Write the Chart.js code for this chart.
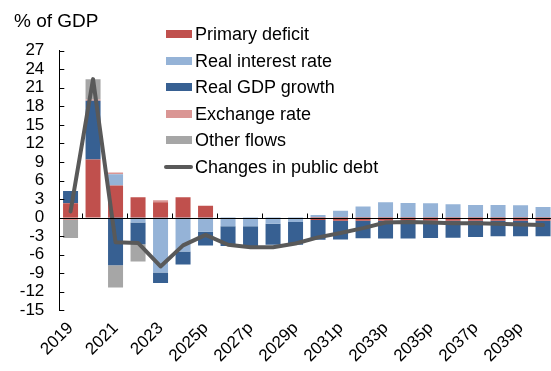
<!DOCTYPE html>
<html>
<head>
<meta charset="utf-8">
<script src="https://cdn.jsdelivr.net/npm/chart.js@4"></script>
<style>
  html, body { margin: 0; padding: 0; background: #fff; overflow: hidden; }
  body { width: 551px; height: 371px; position: relative; font-family: 'Liberation Sans', Arial, sans-serif; }
  #wrap { position: absolute; left: 0; top: 0; width: 560px; height: 371px; }
  #unit { position: absolute; left: 14px; top: 11px; font-size: 19px; line-height: 19px; color: #000; white-space: nowrap; }
  #legend { position: absolute; left: 0; top: 0; }
  .item { position: absolute; height: 18px; line-height: 18px; font-size: 18px; color: #000; white-space: nowrap; }
  .swatch { position: absolute; left: 0; top: 5px; width: 26px; height: 8px; }
  .dash { position: absolute; left: -2px; top: 7px; width: 29px; height: 4px; border-radius: 2px; }
  .item span { position: absolute; left: 29px; top: 0; }
</style>
</head>
<body>
<div id="wrap"><canvas id="chart" width="560" height="371"></canvas></div>
<div id="unit">% of GDP</div>
<div id="legend"></div>
<script>
'use strict';

// ─── Data ─────────────────────────────────────────────────────────────────────

const categories = ['2019', '2020', '2021', '2022', '2023', '2024', '2025p', '2026p',
  '2027p', '2028p', '2029p', '2030p', '2031p', '2032p', '2033p', '2034p', '2035p',
  '2036p', '2037p', '2038p', '2039p', '2040p'];

const primaryDeficit = [2.3, 9.4, 5.2, 3.3, 2.5, 3.3, 1.9, 0, 0, 0, 0,
  -0.4, -0.5, -0.5, -0.5, -0.5, -0.5, -0.5, -0.5, -0.5, -0.5, -0.5];
const realInterest = [0, 0, 1.8, -0.8, -8.9, -5.5, -2.3, -1.4, -1.4, -1.0, -0.7,
  0.4, 1.1, 1.8, 2.5, 2.35, 2.3, 2.15, 2.05, 2.05, 2.0, 1.7];
const realGrowth = [2.0, 9.5, -7.7, -3.5, -1.7, -2.1, -2.2, -3.2, -3.3, -3.4, -3.7,
  -3.2, -3.05, -2.85, -2.9, -2.9, -2.8, -2.75, -2.65, -2.5, -2.5, -2.5];
const exchangeRate = [-0.4, 0.2, 0.3, 0, 0.3, 0, 0, 0, 0, 0, 0,
  0, 0, 0, 0, 0, 0, 0, 0, 0, 0, 0];
const otherFlows = [-2.9, 3.3, -3.6, -2.8, 0, 0, 0, 0, 0, 0, 0,
  0, 0, 0, 0, 0, 0, 0, 0, 0, 0, 0];
const debtChange = [1.0, 22.4, -4.0, -4.1, -7.9, -4.5, -2.8, -4.4, -4.8, -4.8, -4.2,
  -3.2, -2.5, -1.7, -0.8, -0.7, -0.8, -0.9, -0.9, -1.0, -1.1, -1.2];

const yTicks = { min: -15, max: 27, step: 3 };

// ─── Styles ───────────────────────────────────────────────────────────────────

const FONT = "'Liberation Sans', Arial, sans-serif";

const barSeries = [
  { label: 'Primary deficit',    data: primaryDeficit, color: '#C0504D' },
  { label: 'Real interest rate', data: realInterest,   color: '#95B3D7' },
  { label: 'Real GDP growth',    data: realGrowth,     color: '#376092' },
  { label: 'Exchange rate',      data: exchangeRate,   color: '#DA9694' },
  { label: 'Other flows',        data: otherFlows,     color: '#A6A6A6' },
];
const lineSeries = { label: 'Changes in public debt', data: debtChange, color: '#595959' };

// ─── Axis marks (Excel-style inside ticks, axis crossing at zero) ─────────────

const axisMarks = {
  id: 'axisMarks',
  afterDatasetsDraw(chart) {
    const { ctx, chartArea, scales: { x, y } } = chart;
    const zeroY = Math.round(y.getPixelForValue(0)) + 0.5;
    ctx.save();
    ctx.strokeStyle = '#000';
    ctx.lineWidth = 1;
    ctx.beginPath();
    ctx.moveTo(chartArea.left, zeroY);
    ctx.lineTo(chartArea.right, zeroY);
    y.ticks.forEach(t => {
      const py = Math.round(y.getPixelForValue(t.value)) + 0.5;
      ctx.moveTo(chartArea.left, py);
      ctx.lineTo(chartArea.left + 5, py);
    });
    for (let i = 1; i < categories.length; i += 2) {
      const px = Math.round((x.getPixelForValue(i - 1) + x.getPixelForValue(i)) / 2) + 0.5;
      ctx.moveTo(px, zeroY);
      ctx.lineTo(px, zeroY - 5);
    }
    ctx.stroke();
    ctx.restore();
  },
};

// ─── Chart ────────────────────────────────────────────────────────────────────

const datasets = [
  {
    type: 'line',
    label: lineSeries.label,
    data: lineSeries.data,
    stack: 'debt',
    borderColor: lineSeries.color,
    backgroundColor: lineSeries.color,
    borderWidth: 4,
    borderJoinStyle: 'round',
    borderCapStyle: 'round',
    pointRadius: 0,
    tension: 0,
    fill: false,
  },
  ...barSeries.map(s => ({
    type: 'bar',
    label: s.label,
    data: s.data,
    stack: 'flows',
    backgroundColor: s.color,
    borderWidth: 0,
    barPercentage: 1,
    categoryPercentage: 0.667,
  })),
];

new Chart(document.getElementById('chart'), {
  data: { labels: categories, datasets },
  options: {
    responsive: false,
    animation: false,
    layout: { padding: { top: 50.7, right: 5.7, left: 0, bottom: 0 } },
    plugins: { legend: { display: false }, tooltip: { enabled: false } },
    scales: {
      x: {
        stacked: true,
        grid: { display: false, drawTicks: false },
        border: { display: false },
        ticks: {
          autoSkip: false,
          minRotation: 45,
          maxRotation: 45,
          padding: 8,
          color: '#000',
          font: { family: FONT, size: 17 },
          callback: (v, i) => (i % 2 === 0 ? categories[i] : ''),
        },
        afterFit: s => { s.height = 60.7; s.paddingLeft = 0; s.paddingRight = 0; },
      },
      y: {
        stacked: true,
        min: yTicks.min,
        max: yTicks.max,
        grid: { display: false, drawTicks: false },
        border: { display: true, color: '#000', width: 1 },
        ticks: {
          stepSize: yTicks.step,
          autoSkip: false,
          padding: 15,
          color: '#000',
          font: { family: FONT, size: 17 },
        },
        afterFit: s => { s.width = 59.3; s.paddingTop = 0; s.paddingBottom = 0; },
      },
    },
  },
  plugins: [axisMarks],
});

// ─── Legend ───────────────────────────────────────────────────────────────────

const legendEl = document.getElementById('legend');
const legendTop = 25;
const legendStep = 26.5;
[...barSeries, lineSeries].forEach((s, i) => {
  const item = document.createElement('div');
  item.className = 'item';
  item.style.left = '166px';
  item.style.top = (legendTop + i * legendStep) + 'px';
  const mark = document.createElement('div');
  mark.className = s === lineSeries ? 'dash' : 'swatch';
  mark.style.background = s.color;
  const text = document.createElement('span');
  text.textContent = s.label;
  item.appendChild(mark);
  item.appendChild(text);
  legendEl.appendChild(item);
});
</script>
</body>
</html>
